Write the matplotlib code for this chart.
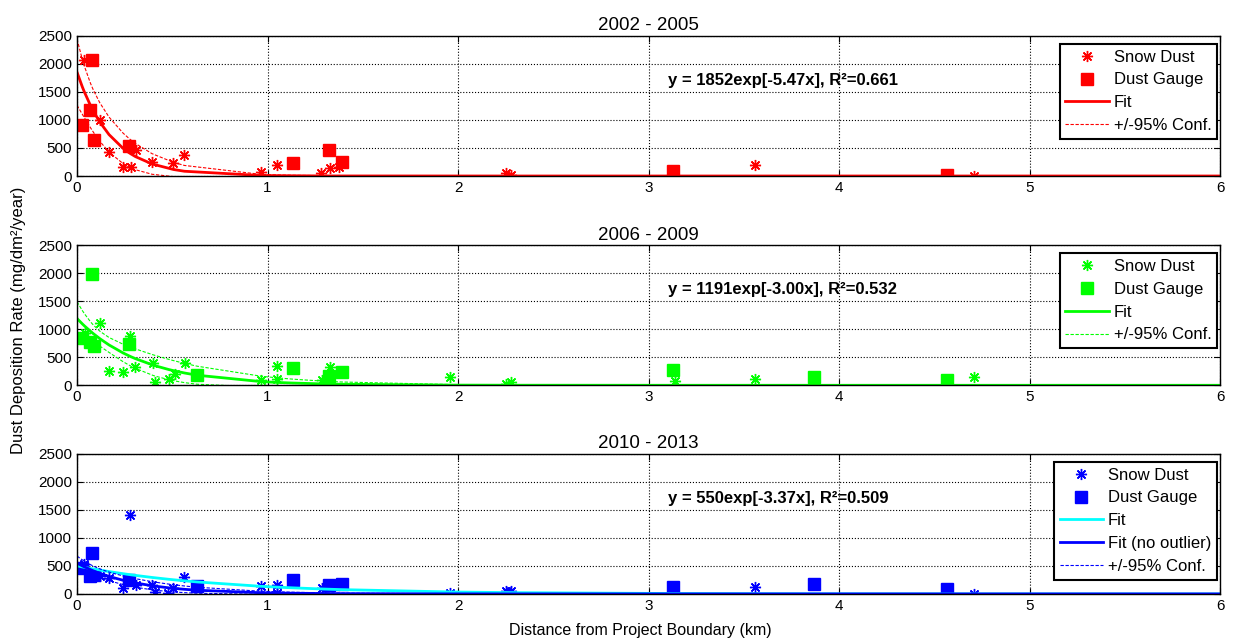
import numpy as np
import matplotlib
matplotlib.use("Agg")
import matplotlib.pyplot as plt

plt.rcParams['font.family'] = ['Liberation Sans', 'DejaVu Sans']
plt.rcParams['font.size'] = 11

### Data ###
titles = ["2002 - 2005", "2006 - 2009", "2010 - 2013"]
colors = ["#ff0000", "#00ff00", "#0000ff"]

snow_x_1 = [0.038, 0.119, 0.168, 0.241, 0.281, 0.307, 0.394, 0.506, 0.564, 0.965,
            1.052, 1.283, 1.328, 1.375, 2.25, 2.28, 3.558, 4.705]
snow_y_1 = [2065, 1006, 429, 161, 161, 470, 244, 232, 369, 80,
            202, 60, 149, 161, 54, 18, 203, 6]
gauge_x_1 = [0.028, 0.070, 0.080, 0.087, 0.272, 1.131, 1.323, 1.389, 3.126, 4.566]
gauge_y_1 = [917, 1173, 2065, 649, 536, 232, 470, 256, 90, 25]

snow_x_2 = [0.040, 0.122, 0.168, 0.241, 0.280, 0.304, 0.399, 0.407, 0.481, 0.512, 0.565,
            0.967, 1.052, 1.052, 1.284, 1.328, 1.960, 2.25, 2.28, 3.137, 3.558, 4.705]
snow_y_2 = [925, 1104, 257, 239, 883, 328, 406, 60, 119, 209, 400,
            90, 340, 119, 90, 328, 149, 24, 66, 78, 114, 155]
gauge_x_2 = [0.028, 0.070, 0.080, 0.087, 0.273, 0.631, 1.131, 1.323, 1.389, 3.126, 3.866, 4.566]
gauge_y_2 = [835, 776, 1987, 698, 728, 179, 304, 161, 245, 275, 155, 96]

snow_x_3 = [0.035, 0.119, 0.168, 0.241, 0.279, 0.307, 0.394, 0.407, 0.480, 0.506, 0.564,
            0.965, 1.052, 1.052, 1.284, 1.375, 1.960, 2.25, 2.28, 3.137, 3.558, 4.705]
snow_y_3 = [540, 324, 280, 110, 1410, 160, 160, 30, 20, 100, 300,
            140, 165, 25, 105, 160, 15, 60, 60, 5, 120, 6]
gauge_x_3 = [0.028, 0.070, 0.080, 0.087, 0.272, 0.631, 1.131, 1.323, 1.389, 3.126, 3.866, 4.566]
gauge_y_3 = [470, 320, 735, 340, 245, 135, 245, 158, 170, 126, 179, 96]

# fit y = a*exp(-b*x), and the 95% band terms
fit_a = [1852, 1191, 550]
fit_b = [5.47, 3.00, 3.37]
fit_r2 = [0.661, 0.532, 0.509]
ci_a = [590, 300, 125]
ci_cross = [-1.33e6, -0.94e6, -0.084e6]
ci_b = [4160, 2030, 772]

# 2010-2013 fit including the outlier (cyan)
fit_all_a = 500
fit_all_b = 1.35
##################

snow_x = [snow_x_1, snow_x_2, snow_x_3]
snow_y = [snow_y_1, snow_y_2, snow_y_3]
gauge_x = [gauge_x_1, gauge_x_2, gauge_x_3]
gauge_y = [gauge_y_1, gauge_y_2, gauge_y_3]

fig = plt.figure(figsize=(12.36, 6.4), dpi=100)
bottoms = [0.725, 0.398, 0.072]
star = (8, 2, 0)

for i in range(3):
    ax = fig.add_axes([0.0623, bottoms[i], 0.925, 0.219])
    c = colors[i]

    # curves evaluated at the sorted station distances
    xs = np.unique(np.r_[0, snow_x[i], gauge_x[i], 6])
    a, b = fit_a[i], fit_b[i]
    yfit = a * np.exp(-b * xs)
    var = np.clip(ci_a[i] ** 2 + ci_cross[i] * xs + ci_b[i] ** 2 * xs ** 2, 0, None)
    delta = np.exp(-b * xs) * np.sqrt(var)

    ax.plot(snow_x[i], snow_y[i], ls='none', marker=star, ms=8, mew=1.0, color=c, label='Snow Dust')
    ax.plot(gauge_x[i], gauge_y[i], ls='none', marker='s', ms=8, color=c, label='Dust Gauge')
    if i == 2:
        ax.plot(xs, fit_all_a * np.exp(-fit_all_b * xs), color='#00ffff', lw=2, label='Fit')
        ax.plot(xs, yfit, color=c, lw=2, label='Fit (no outlier)')
    else:
        ax.plot(xs, yfit, color=c, lw=2, label='Fit')
    ax.plot(xs, yfit + delta, color=c, lw=0.8, ls='--', dashes=(3, 1.5), label='+/-95% Conf.')
    ax.plot(xs, yfit - delta, color=c, lw=0.8, ls='--', dashes=(3, 1.5))

    ax.set_xlim(0, 6)
    ax.set_ylim(0, 2500)
    ax.set_xticks(range(7))
    ax.set_yticks(range(0, 2501, 500))
    ax.grid(True, color='black', ls=':', lw=0.8)
    ax.tick_params(direction='in', top=True, right=True, length=4, labelsize=11)
    for s in ax.spines.values():
        s.set_linewidth(1.0)
    ax.set_title(titles[i], fontsize=13.5, pad=4)

    ax.text(3.1, 1700, f"y = {a}exp[-{b:.2f}x], R²={fit_r2[i]:.3f}",
            fontsize=12, fontweight='bold', va='center', ha='left')

    leg = ax.legend(loc='upper right', bbox_to_anchor=(0.9974, 0.943), borderaxespad=0,
                    numpoints=1, fancybox=False, framealpha=1, edgecolor='black',
                    fontsize=12, handlelength=2.6, handletextpad=0.3,
                    labelspacing=0.47, borderpad=0.35)
    leg.get_frame().set_linewidth(1.5)

fig.text(0.0146, 0.50, "Dust Deposition Rate (mg/dm²/year)", rotation=90,
         ha='center', va='center', fontsize=12)
fig.text(0.518, 0.003, "Distance from Project Boundary (km)", ha='center',
         va='bottom', fontsize=11.5)

fig.savefig("out.png", dpi=100)
